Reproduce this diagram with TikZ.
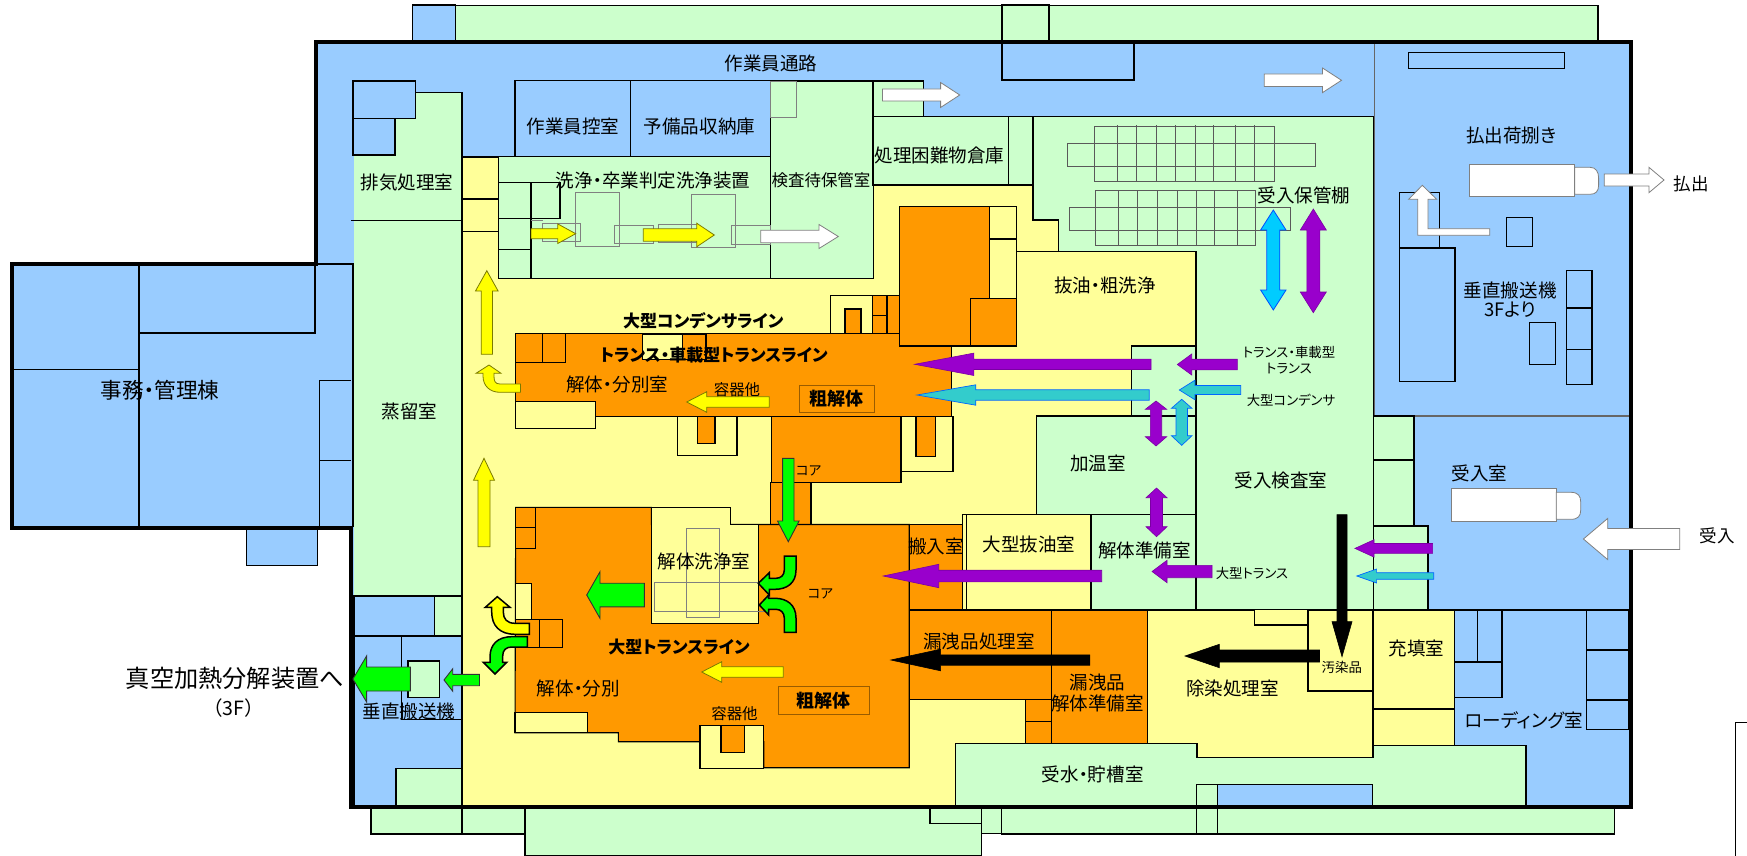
\documentclass[tikz,border=0pt]{standalone}
\usepackage{fontspec}
\setmainfont[RawFeature=+palt]{Noto Sans CJK JP}
\newfontfamily\fullw{Noto Sans CJK JP}
\definecolor{cblue}{HTML}{99CCFF}
\definecolor{cgreen}{HTML}{CCFFCC}
\definecolor{cyel}{HTML}{FFFF99}
\definecolor{corg}{HTML}{FF9900}
\definecolor{apur}{HTML}{9900CC}
\definecolor{acyan}{HTML}{00CCFF}
\definecolor{ateal}{HTML}{33CCCC}
\definecolor{agreen}{HTML}{00FF00}
\definecolor{ayel}{HTML}{FFFF00}
\tikzset{
 room/.style={draw=black,line width=1.1pt},
 blue/.style={room,fill=cblue},
 green/.style={room,fill=cgreen},
 yel/.style={room,fill=cyel},
 org/.style={room,fill=corg},
 thinbox/.style={draw=black!50,line width=.8pt},
 shelf/.style={draw=black!65,line width=.8pt},
 wall/.style={draw=black,line width=4pt,line join=miter},
 txt/.style={inner sep=0pt,text=black,anchor=center},
 apurple/.style={fill=apur,draw=apur!80!black,line width=.6pt},
 acy/.style={fill=acyan,draw=blue!70!cyan,line width=.8pt},
 ate/.style={fill=ateal,draw=blue!60!cyan,line width=.7pt},
 awhite/.style={fill=white,draw=black!50,line width=.8pt},
 ablack/.style={fill=black,draw=black,line width=.6pt},
 agre/.style={fill=agreen,draw=black!80,line width=.9pt},
 agrek/.style={fill=agreen,draw=black,line width=1.5pt,line join=miter},
 ayk/.style={fill=ayel,draw=black,line width=1.5pt,line join=miter},
 ayl/.style={fill=ayel,draw=black!40!ayel!80!black,line width=.8pt},
}
\newcommand\harr[7]{\draw[#1] (#2,#4-#5)--(#6,#4-#5)--(#6,#4-#7)--(#3,#4)--(#6,#4+#7)--(#6,#4+#5)--(#2,#4+#5)--cycle;}
\newcommand\varr[7]{\draw[#1] (#4-#5,#2)--(#4-#5,#6)--(#4-#7,#6)--(#4,#3)--(#4+#7,#6)--(#4+#5,#6)--(#4+#5,#2)--cycle;}
\newcommand\dvarr[8]{\draw[#1] (#4-#5,#6)--(#4-#8,#6)--(#4,#2)--(#4+#8,#6)--(#4+#5,#6)--(#4+#5,#7)--(#4+#8,#7)--(#4,#3)--(#4-#8,#7)--(#4-#5,#7)--cycle;}
\newcommand\lab[5]{\pgfmathsetmacro\fsz{#4*1.03}\node[txt] (#1) at (#2,#3) {\fontsize{\fsz}{\fsz}\selectfont #5};}
\newcommand\blab[5]{\node[txt] (#1) at (#2,#3) {\fontsize{#4}{#4}\selectfont\bfseries #5};}
\begin{document}
\begin{tikzpicture}[x=1pt,y=-1pt]
\useasboundingbox (0,0) rectangle (1747,856);
\fill[white] (0,0) rectangle (1747,856);
% outside annexes
\draw[blue] (412.5,5) rectangle (455.4,42);
\draw[green] (455.4,5.5) rectangle (1598,42);
\draw[green] (1002,5) rectangle (1049,42);
\draw[blue] (246.8,527) rectangle (317.6,565.3);
\draw[green] (371,807) rectangle (462,834);
\draw[green] (462,807) rectangle (525,834);
\draw[green] (525,807) rectangle (981.5,856);
\draw[green] (930,807) rectangle (981.5,823.7);
\draw[green] (981.5,807) rectangle (1001.8,833.3);
\draw[green] (1001.8,807) rectangle (1614.6,834);
% interior floor
\fill[cblue] (316,42)--(1631,42)--(1631,807)--(351,807)--(351,527)--(11.5,527)--(11.5,264)--(316,264)--cycle;
% office lines
\draw[room] (139,264)--(139,527) (139,333)--(315,333)--(315,264) (11.5,369.3)--(139,369.3) (316,264)--(353,264)--(353,527);
\draw[room] (319.6,527)--(319.6,380.3)--(351,380.3) (319.6,460.7)--(351,460.7);
% green left rooms
\fill[cgreen] (354,155)--(395,155)--(395,118.7)--(415.6,118.7)--(415.6,92.7)--(462,92.7)--(462,596)--(354,596)--cycle;
\draw[room] (415.6,92.7)--(462,92.7)--(462,596)--(354,596);
\draw[room] (351,220.7)--(462,220.7);
\draw[blue] (353,81) rectangle (415.6,118.7);
\draw[blue] (353,118.7) rectangle (395,155);
\draw[blue] (354,596) rectangle (434.4,636);
\draw[green] (434.4,596) rectangle (462,636);
\draw[blue] (354,636) rectangle (462,807);
\draw[room] (401.8,636)--(401.8,719.3)--(462,719.3);
\draw[green] (396,768.3) rectangle (463.5,807);
\draw[green] (408,661) rectangle (439.3,697.7);
% main yellow floor
\draw[yel] (462,157)--(1033,157)--(1033,220)--(1058.8,220)--(1058.8,251.7)--(1196,251.7)--(1196,416)--(1036.7,416)--(1036.7,743.7)--(955.5,743.7)--(955.5,807)--(462,807)--cycle;
\draw[yel] (462,157) rectangle (498.6,199);
\draw[yel] (462,199) rectangle (498.6,231.3);
\draw[room] (1016.4,346)--(1016.4,251.7)--(1196,251.7)--(1196,346);
% top rooms
\draw[blue] (515,80.3) rectangle (630.6,157);
\draw[blue] (630.6,80.3) rectangle (770.7,157);
\draw[green] (498.6,156.7) rectangle (770.7,278.3);
\draw[green] (770.7,81) rectangle (873.6,278.3);
\draw[thinbox] (770.7,81) rectangle (796,117);
\draw[green] (873,81) rectangle (923.4,116.7);
\draw[green] (873,116.7) rectangle (1008.7,185);
\draw[green] (1008.7,116.7) rectangle (1033,185);
\draw[green] (498.7,182.3) rectangle (531,218.3);
\draw[green] (531,182.3) rectangle (560,218.3);
\draw[green] (498.7,218.3) rectangle (531,249.3);
\draw[green] (498.7,249.3) rectangle (531,278.3);
\draw[thinbox] (531,220.3)--(542.7,220.3);
\draw[thinbox] (575.7,192.3) rectangle (619.3,246.7);
\draw[thinbox] (691.3,194.3) rectangle (735,247.7);
\draw[thinbox] (542.7,223.3) rectangle (580.7,241.7);
\draw[thinbox] (614.7,225.3) rectangle (653.3,243.3);
\draw[thinbox] (658.3,224.3) rectangle (697,242.7);
\draw[thinbox] (731,225.7) rectangle (770,244.7);
% right green block
\draw[green] (1033,116.7)--(1373.5,116.7)--(1373.5,609.3)--(1196,609.3)--(1196,251.7)--(1058.8,251.7)--(1058.8,220)--(1033,220)--cycle;
\draw[green] (1131.3,346) rectangle (1195.7,416);
\draw[green] (1036.7,416) rectangle (1196,514.3);
% shelves
\draw[shelf] (1067.3,143.7) rectangle (1315.3,166);
\draw[shelf] (1094,126) rectangle (1274.7,181.7);
\foreach \x in {1117.3,1136.3,1156.3,1175.3,1195,1213.7,1235.7,1254.3} \draw[shelf] (\x,125.5)--(\x,182.3);
\draw[shelf] (1069.3,207.3) rectangle (1290.7,230.3);
\draw[shelf] (1095,190.3) rectangle (1255.3,245.7);
\foreach \x in {1118.3,1137.7,1157.3,1177.3,1196.3,1214.3,1237.3} \draw[shelf] (\x,190)--(\x,246);
% upper orange line
\draw[org] (899.3,206.7) rectangle (989.6,346);
\draw[yel] (989.6,206.7) rectangle (1016.4,239);
\draw[yel] (989.6,239) rectangle (1016.4,298.3);
\draw[org] (970.5,298.3) rectangle (1016.4,346);
\draw[yel] (830.8,295.3) rectangle (899.3,333.3);
\draw[org] (845,309) rectangle (861,333.3);
\draw[org] (872.9,295.3) rectangle (887,315.7);
\draw[org] (872.9,315.7) rectangle (887,333.3);
\draw[org] (887,295.3) rectangle (899.3,333.3);
\draw[org] (515.7,333.3)--(899.3,333.3)--(899.3,346)--(951.7,346)--(951.7,416.7)--(515.7,416.7)--cycle;
\draw[org] (515.7,333.3) rectangle (542.3,362.3);
\draw[org] (542.3,333.3) rectangle (565.7,362.3);
\draw[yel] (642.3,334.3) rectangle (682.7,359.3);
\draw[org] (682.7,334.3) rectangle (706,359.3);
\draw[yel] (515.7,401.7) rectangle (595.7,428.3);
\draw[yel] (677.3,416.7) rectangle (737,455.3);
\draw[org] (697.3,416.7) rectangle (715,443.3);
\draw[org] (771.7,416.7) rectangle (901,482.3);
\draw[org] (770.7,482.3) rectangle (811,525.3);
\draw[yel] (901,416.7) rectangle (953,471.3);
\draw[org] (916,416.7) rectangle (935.7,456.3);
% lower orange line
\draw[org] (515.7,507.3)--(651.3,507.3)--(651.3,524.5)--(909.2,524.5)--(909.2,767.7)--(763.7,767.7)--(763.7,741.7)--(618.3,741.7)--(618.3,732.7)--(515,732.7)--cycle;
\draw[yel] (651.3,507.3)--(730.7,507.3)--(730.7,524.5)--(758.3,524.5)--(758.3,623.3)--(651.3,623.3)--cycle;
\draw[thinbox] (686.3,528.3) rectangle (719.7,617.7);
\draw[thinbox] (654.3,582.3) rectangle (769.3,611);
\draw[org] (515.7,507.3) rectangle (535.3,527.3);
\draw[org] (515.7,527.3) rectangle (535.3,548.3);
\draw[yel] (515.7,583.3) rectangle (531.7,619.3);
\draw[org] (515.7,619.3) rectangle (539.3,647.3);
\draw[org] (539.3,619.3) rectangle (562.3,647.3);
\draw[yel] (515,712.3) rectangle (587.3,732.5);
\draw[yel] (700,725.7) rectangle (763.7,768.3);
\draw[org] (721,725.7) rectangle (744.3,752.3);
\draw[draw=corg!60!black,line width=.8pt] (799.3,385) rectangle (874.7,412.7);
\draw[draw=corg!60!black,line width=.8pt] (778.3,686.3) rectangle (869,714.3);
% rooms centre right
\draw[org] (909.2,524.5) rectangle (962.8,610);
\draw[yel] (962.8,514.3) rectangle (1091,610);
\draw[room] (966.6,514.3)--(966.6,610);
\draw[green] (1091,514.3) rectangle (1196,610);
\draw[org] (909.2,610) rectangle (1051.6,699.3);
\draw[org] (1051.6,610) rectangle (1147.6,743.7);
\draw[org] (1025.6,699.3) rectangle (1051.6,721.7);
\draw[org] (1025.6,721.7) rectangle (1051.6,743.7);
% lower right
\draw[green] (955.5,743.7)--(1197,743.7)--(1197,757.7)--(1373,757.7)--(1373,745.3)--(1526,745.3)--(1526,807)--(955.5,807)--cycle;
\draw[yel] (1147.6,610)--(1373,610)--(1373,757.7)--(1197,757.7)--(1197,743.7)--(1147.6,743.7)--cycle;
\draw[yel] (1254.7,609.3) rectangle (1308,625);
\draw[yel] (1308,610) rectangle (1373,691);
\draw[yel] (1373,610) rectangle (1454.6,709);
\draw[yel] (1373,709) rectangle (1454.6,745.3);
\draw[blue] (1217.8,784.7) rectangle (1372.8,807);
\draw[blue] (1454.6,610) rectangle (1477.5,662);
\draw[blue] (1477.5,610) rectangle (1502,662);
\draw[blue] (1454.6,662) rectangle (1502,697.7);
\draw[blue] (1586.8,609.3) rectangle (1629,650);
\draw[blue] (1586.8,650) rectangle (1629,700);
\draw[blue] (1586.8,700) rectangle (1629,729.3);
\draw[room] (1526,807)--(1526,745.3) (1454.6,745.3)--(1454.6,610)--(1631,610);
% right blue hall
\draw[room,draw=black!60] (1374.7,42)--(1374.7,416)--(1631,416);
\draw[green] (1373.5,416) rectangle (1414,460);
\draw[green] (1373.5,460) rectangle (1414,526);
\draw[green] (1373.5,526) rectangle (1428,609.3);
\draw[blue] (1408.6,52.3) rectangle (1564.3,68.3);
\draw[blue] (1399.4,192.3) rectangle (1439.4,248);
\draw[blue] (1399.4,248) rectangle (1455,381.3);
\draw[blue] (1506.8,217.7) rectangle (1532.3,246.3);
\draw[blue] (1566.6,270.7) rectangle (1592,308);
\draw[blue] (1566.6,308) rectangle (1592,349.3);
\draw[blue] (1566.6,349.3) rectangle (1592,384.3);
\draw[blue] (1529.7,322.7) rectangle (1555.2,364.3);
% trucks
\draw[thinbox,fill=white] (1469,164.7) rectangle (1574.6,196.3);
\draw[thinbox,fill=white] (1574.6,167.3)--(1590,167.3) .. controls (1596,167.3) and (1598.6,172) .. (1598.6,178)--(1598.6,185) .. controls (1598.6,191) and (1596,194.3) .. (1590,194.3)--(1574.6,194.3)--cycle;
\draw[thinbox,fill=white] (1451.6,488.7) rectangle (1556.3,521.3);
\draw[thinbox,fill=white] (1556.3,492.3)--(1571,492.3) .. controls (1578,492.3) and (1580.7,496) .. (1580.7,502)--(1580.7,510) .. controls (1580.7,516) and (1578,519.3) .. (1571,519.3)--(1556.3,519.3)--cycle;
% walls
\draw[blue] (1002,42) rectangle (1134,80);
\draw[green] (1196.5,784.7) rectangle (1217.8,834);
\draw[wall] (316,42.3)--(1631,42.3)--(1631,807)--(351,807)--(351,527.7)--(11.5,527.7)--(11.5,264)--(316,264)--cycle;
\draw[room] (1735.3,856)--(1735.3,722.7)--(1747,722.7);
% arrows
\harr{awhite}{882.4}{959.7}{95}{6}{940.6}{12.5}
\harr{awhite}{1264.2}{1341.5}{80.3}{6.3}{1322.5}{12.3}
\harr{awhite}{1604.3}{1664}{180}{6}{1648.9}{12.7}
\harr{awhite}{1679.7}{1583.4}{539}{10.5}{1607.7}{20.6}
\harr{awhite}{760.7}{838.3}{236.5}{6.3}{819}{12}
\harr{ayl}{531}{575.7}{233.7}{5}{557.7}{9.8}
\harr{ayl}{643.3}{714.3}{235}{6.2}{696.7}{11.8}
\draw[awhite] (1489.7,228.7)--(1428,228.7)--(1428,199.3)--(1436.7,199.3)--(1422.3,185.3)--(1408.6,199.3)--(1417.7,199.3)--(1417.7,235.3)--(1489.7,235.3)--cycle;
\dvarr{acy}{210}{310}{1273.3}{6.5}{230}{290}{12.7}
\dvarr{apurple}{209}{312.7}{1313.3}{6.5}{230}{292}{13}
\harr{apurple}{1151}{914.6}{364.3}{5.2}{973.9}{11.2}
\harr{ate}{1149.2}{916.9}{395}{5.2}{975.8}{10.2}
\harr{apurple}{1237.3}{1177.3}{364.5}{5.3}{1191.7}{10.5}
\harr{ate}{1240.7}{1179.3}{390}{4.5}{1195}{9.8}
\dvarr{apurple}{401}{446}{1156}{5.7}{409.3}{436.7}{10.7}
\dvarr{ate}{399.3}{445.3}{1181.7}{5.7}{408.3}{435.7}{10.3}
\dvarr{apurple}{488}{536.7}{1156.5}{6}{497.7}{526.7}{10.5}
\harr{apurple}{1101.7}{883.2}{576}{5.8}{938.7}{11.7}
\harr{apurple}{1212}{1152}{571.5}{6.2}{1167}{11.2}
\harr{apurple}{1432.6}{1354.9}{548.4}{4.9}{1374}{8.7}
\harr{ate}{1433.7}{1356.8}{576}{3.3}{1376.6}{7}
\varr{ablack}{514.7}{656.7}{1342}{5}{621.7}{10}
\harr{ablack}{1319.5}{1185}{656}{6}{1219.3}{11.7}
\harr{ablack}{1089.9}{890.9}{660}{5.2}{940.6}{10.8}
\harr{ayl}{769.3}{686.7}{402}{5.3}{706.7}{10.3}
\harr{ayl}{783.3}{701.7}{672}{5.2}{721.7}{10.3}
\harr{agre}{644.3}{586.7}{595}{11.8}{600}{23.3}
\varr{agre}{458.3}{541.7}{788.3}{5.7}{521}{10.8}
\harr{agre}{410.3}{352.9}{679}{12}{366.6}{23}
\harr{agre}{479.5}{444}{680}{5.7}{452.7}{11.2}
\varr{ayl}{354.3}{270.7}{486.8}{5.6}{291}{11.3}
\varr{ayl}{546.7}{458.3}{484}{6}{480.3}{10.5}
% curved arrows
\draw[ayl] (520.5,384)--(500,384) .. controls (495,384) and (494,381) .. (494,376)--(494,373.3)--(501,373.3)--(489,365)--(476,373.3)--(483,373.3)--(483,376) .. controls (483,386) and (490,392.3) .. (500,392.3)--(520.5,392.3)--cycle;
\draw[ayk] (529.3,623.3)--(515,623.3) .. controls (507,623.3) and (503.3,619) .. (503.3,612)--(503.3,607.3)--(510,607.3)--(497.3,596.7)--(485.3,607.3)--(491.7,607.3)--(491.7,612) .. controls (491.7,626) and (500,634.3) .. (515,634.3)--(529.3,634.3)--cycle;
\draw[agrek] (527.3,636.7)--(512,636.7) .. controls (497,636.7) and (490,645) .. (490,657)--(490,662.3)--(483.3,662.3)--(495,674)--(506.7,662.3)--(502.7,662.3)--(502.7,656) .. controls (502.7,650) and (506,647) .. (512,647)--(527.3,647)--cycle;
\draw[agrek] (784.3,556)--(796,556)--(796,570) .. controls (796,583) and (787,589.3) .. (775,589.3)--(769.3,589.3)--(769.3,595)--(758.3,583.3)--(769.3,572.7)--(769.3,578.3)--(776,578.3) .. controls (781,578.3) and (784.3,575) .. (784.3,570)--cycle;
\draw[agrek] (784.3,632.3)--(796,632.3)--(796,618) .. controls (796,605) and (787,598.3) .. (775,598.3)--(768.7,598.3)--(768.7,595)--(759.3,605)--(768.7,615)--(768.7,609.3)--(776,609.3) .. controls (781,609.3) and (784.3,613) .. (784.3,618)--cycle;
% labels
\lab{t1}{771}{63}{18}{作業員通路}
\lab{t2}{573}{126}{18}{作業員控室}
\lab{t3}{699.5}{126}{18}{予備品収納庫}
\lab{t4}{939.6}{155}{18}{処理困難物倉庫}
\lab{t5}{821}{180}{16}{検査待保管室}
\lab{t6}{653}{180}{18}{洗浄・卒業判定洗浄装置}
\lab{t7}{407}{183}{18}{排気処理室}
\lab{t8}{409.5}{411.7}{18}{蒸留室}
\lab{t9}{160}{390.7}{21}{事務・管理棟}
\lab{t10}{1105}{285}{18}{抜油・粗洗浄}
\blab{t11}{703.3}{320.7}{17}{大型コンデンサライン}
\blab{t12}{713.7}{355}{17}{トランス・車載型トランスライン}
\lab{t13}{617.3}{384}{18}{解体・分別室}
\lab{t14}{737}{390}{15}{容器他}
\blab{t15}{836.7}{399}{18}{粗解体}
\lab{t16}{808.7}{470.7}{13}{コア}
\lab{t17}{704}{561.7}{18}{解体洗浄室}
\lab{t18}{936}{546}{18}{搬入室}
\lab{t19}{1029}{544.3}{18}{大型抜油室}
\lab{t20}{1144.4}{550}{18}{解体準備室}
\lab{t21}{1252}{573.3}{13}{大型トランス}
\lab{t22}{820.5}{594.3}{13}{コア}
\blab{t23}{679}{647.3}{17}{大型トランスライン}
\lab{t24}{578.3}{688.3}{18}{解体・分別}
\lab{t25}{734.5}{713.3}{15}{容器他}
\blab{t26}{823.3}{701}{18}{粗解体}
\lab{t27}{979}{641}{18}{漏洩品処理室}
\lab{t28}{1097.5}{682}{18}{漏洩品}
\lab{t29}{1097.5}{703.7}{18}{解体準備室}
\lab{t30}{1232.6}{688.3}{18}{除染処理室}
\lab{t31}{1341.8}{667.7}{13}{汚染品}
\lab{t32}{1416.6}{648.7}{18}{充填室}
\lab{t33}{1523.6}{720}{18}{ローディング室}
\lab{t34}{1092.6}{774.3}{18}{受水・貯槽室}
\lab{t35}{1281}{480}{18}{受入検査室}
\lab{t36}{1479.4}{473.7}{18}{受入室}
\lab{t37}{1304}{195.7}{18}{受入保管棚}
\lab{t38}{1098}{463.3}{18}{加温室}
\lab{t39}{1511.5}{135}{18}{払出荷捌き}
\lab{t40}{1510.2}{290}{18}{垂直搬送機}
\lab{t41}{1510.2}{309.3}{18}{3Fより}
\lab{t42}{1289}{352.3}{13}{トランス・車載型}
\lab{t43}{1289}{368.3}{13}{トランス}
\lab{t44}{1291}{400}{13}{大型コンデンサ}
\lab{t45}{409}{711}{18}{垂直搬送機}
\lab{t46}{235}{678.3}{23.5}{真空加熱分解装置へ}
\lab{t47}{233.4}{707.7}{19}{\fullw（3F）}
\lab{t48}{1691}{184}{17}{払出}
\lab{t49}{1717}{536}{17}{受入}
\end{tikzpicture}
\end{document}
